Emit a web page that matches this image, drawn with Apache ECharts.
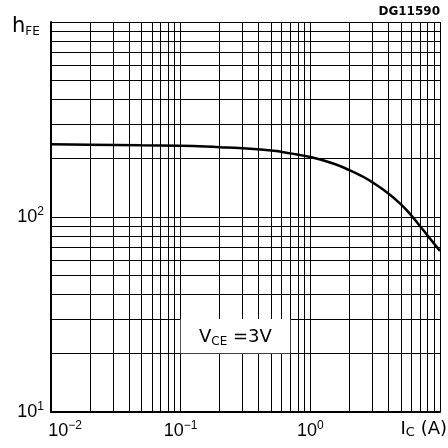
<!DOCTYPE html>
<html><head><meta charset="utf-8">
<script src="https://cdn.jsdelivr.net/npm/echarts@6/dist/echarts.min.js"></script>
<style>html,body{margin:0;padding:0;background:#fff}#c{width:448px;height:448px}</style>
</head><body><div id="c"></div>
<script>
// Curve data: collector current Ic (A) vs DC current gain hFE
const icValues  = [0.01, 0.02, 0.05, 0.1, 0.2, 0.3, 0.5, 0.7, 1.0, 1.5, 2.0, 2.5, 3.0, 4.0, 5.0, 6.0, 7.0, 8.0, 10];
const hfeValues = [236,  235,  233,  232, 228, 225, 219, 212, 203, 188, 174, 162, 151, 132, 116, 102, 90,  80.5, 67];

// Tick labels (decades)
const xTickValues = [0.01, 0.1, 1];
const xTickExps   = ['\u22122', '\u22121', '0'];
const yTickValues = [10, 100];
const yTickExps   = ['1', '2'];

// Grid lines (1..9 per decade)
const xGridLines = [0.01,0.02,0.03,0.04,0.05,0.06,0.07,0.08,0.09,
                    0.1,0.2,0.3,0.4,0.5,0.6,0.7,0.8,0.9,
                    1,2,3,4,5,6,7,8,9,10];
const yGridLines = [10,20,30,40,50,60,70,80,90,
                    100,200,300,400,500,600,700,800,900,1000];

// Annotation box (condition) in data units
const condBoxX = [0.1, 0.7];
const condBoxY = [20, 30];

const FONT = '"Liberation Sans", Arial, sans-serif';
const WFONT = '"DejaVu Sans", sans-serif';

function findIdx(arr, v) {
  for (let i = 0; i < arr.length; i++) {
    if (Math.abs(Math.log10(arr[i]) - Math.log10(v)) < 1e-6) return i;
  }
  return -1;
}

const supRich = {
  b:  { fontSize: 18, fontFamily: FONT, color: '#000', lineHeight: 22, verticalAlign: 'middle' },
  b0: { fontSize: 18, fontFamily: FONT, color: '#000', lineHeight: 22, verticalAlign: 'middle', padding: [0, 0, 0, 28] },
  sup:{ fontSize: 12, fontFamily: FONT, color: '#000', lineHeight: 16, verticalAlign: 'top' }
};

const gridLineData = [];
xGridLines.forEach(v => gridLineData.push({ xAxis: v }));
yGridLines.forEach(v => gridLineData.push({ yAxis: v }));

const chart = echarts.init(document.getElementById('c'), null, { renderer: 'canvas' });
chart.setOption({
  animation: false,
  backgroundColor: '#fff',
  grid: { left: 51, right: 8, top: 22, bottom: 36, containLabel: false },
  xAxis: {
    type: 'log', logBase: 10, min: 0.01, max: 10,
    axisLine: { show: true, onZero: false, lineStyle: { color: '#000', width: 2 } },
    axisTick: { show: false },
    splitLine: { show: false },
    axisLabel: {
      margin: 8,
      formatter: function (v) {
        const i = findIdx(xTickValues, v);
        if (i < 0) return '';
        return (i === 0 ? '{b0|10}' : '{b|10}') + '{sup|' + xTickExps[i] + '}';
      },
      rich: supRich
    }
  },
  yAxis: {
    type: 'log', logBase: 10, min: 10, max: 1000,
    axisLine: { show: true, onZero: false, lineStyle: { color: '#000', width: 2 } },
    axisTick: { show: false },
    splitLine: { show: false },
    axisLabel: {
      margin: 7,
      formatter: function (v) {
        const i = findIdx(yTickValues, v);
        if (i < 0) return '';
        return '{b|10}{sup|' + yTickExps[i] + '}';
      },
      rich: supRich
    }
  },
  series: [
    {
      type: 'line', data: [], silent: true,
      markLine: {
        z: 2, silent: true, symbol: ['none', 'none'], animation: false,
        label: { show: false },
        lineStyle: { color: '#000', width: 1, type: 'solid' },
        emphasis: { disabled: true },
        data: gridLineData
      },
      markArea: {
        z: 5, silent: true,
        itemStyle: { color: '#fff', borderWidth: 0 },
        label: {
          show: true, position: 'inside', offset: [0, 1],
          formatter: '{v|V}{s|CE}{v| =3V}',
          rich: {
            v: { fontSize: 18, fontFamily: WFONT, color: '#000', lineHeight: 22, verticalAlign: 'middle' },
            s: { fontSize: 12, fontFamily: WFONT, color: '#000', lineHeight: 13, verticalAlign: 'bottom' }
          }
        },
        data: [[{ xAxis: condBoxX[0], yAxis: condBoxY[0] }, { xAxis: condBoxX[1], yAxis: condBoxY[1] }]]
      }
    },
    {
      type: 'line', z: 10, smooth: 0.5, showSymbol: false, symbol: 'none',
      lineStyle: { color: '#000', width: 2.5 },
      data: icValues.map((x, i) => [x, hfeValues[i]])
    }
  ],
  graphic: [
    {
      type: 'text', left: 12, top: 16, z: 20,
      style: {
        text: '{h|h}{s|FE}',
        rich: {
          h: { fontSize: 21, fontFamily: WFONT, fill: '#000', lineHeight: 23, verticalAlign: 'middle' },
          s: { fontSize: 12, fontFamily: WFONT, fill: '#000', lineHeight: 13, verticalAlign: 'bottom' }
        }
      }
    },
    {
      type: 'text', right: 8, top: 6, z: 20,
      style: { text: 'DG11590', fontSize: 12, fontWeight: 'bold', fontFamily: WFONT, fill: '#000' }
    },
    {
      type: 'text', right: 1, top: 420, z: 20,
      style: {
        text: '{v|I}{s|C}{v| (A)}',
        rich: {
          v: { fontSize: 18, fontFamily: WFONT, fill: '#000', lineHeight: 20, verticalAlign: 'middle' },
          s: { fontSize: 13, fontFamily: WFONT, fill: '#000', lineHeight: 15, verticalAlign: 'bottom' }
        }
      }
    }
  ]
});
</script></body></html>
